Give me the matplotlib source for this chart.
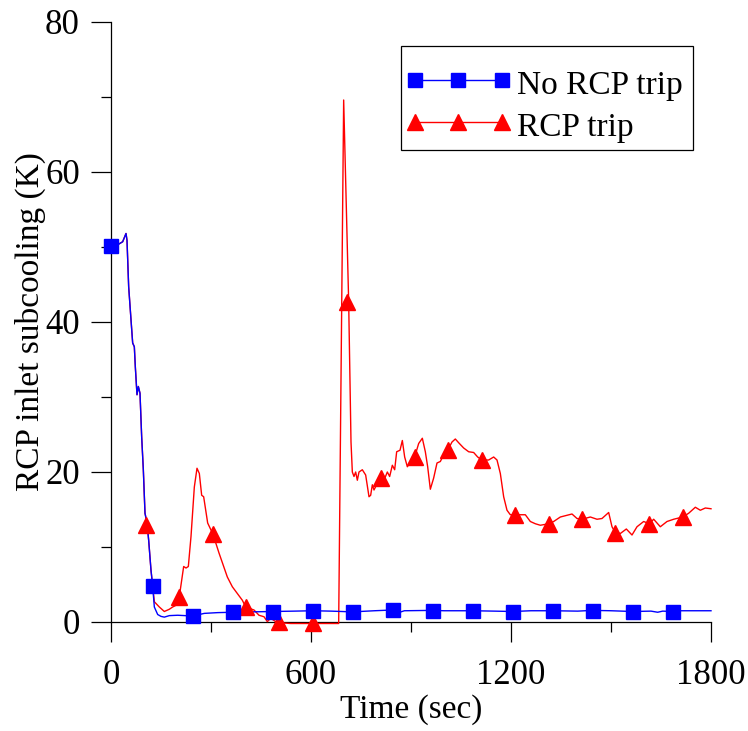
import numpy as np
import matplotlib
matplotlib.use("Agg")
import matplotlib.pyplot as plt
from matplotlib.lines import Line2D
from matplotlib.patches import Rectangle
from matplotlib.ticker import MultipleLocator

plt.rcParams['font.family'] = ['Liberation Serif', 'DejaVu Serif']

# ---- data ----
common_t = [0, 10, 20, 35, 45, 48, 53, 60, 65, 70, 73, 78, 82, 87, 92, 97, 102, 108, 113, 120, 125]
common_v = [50.0, 50.1, 50.3, 50.7, 51.8, 50.9, 44.7, 40.3, 37.2, 36.7, 34.0, 30.3, 31.4, 30.5, 24.7,
            20.3, 14.5, 13.2, 10.9, 6.9, 4.8]

no_trip_t_tail = [130, 140, 150, 160, 175, 200, 245, 280, 320, 365, 420, 485, 550, 605, 660, 725, 790,
                  845, 860, 870, 880, 965, 1000, 1085, 1150, 1205, 1260, 1325, 1400, 1445, 1500, 1565,
                  1620, 1640, 1655, 1685, 1690, 1700, 1800]
no_trip_v_tail = [2.0, 1.0, 0.75, 0.65, 0.85, 0.9, 0.8, 1.15, 1.25, 1.3, 1.35, 1.4, 1.45, 1.5, 1.45,
                  1.35, 1.5, 1.6, 1.5, 1.35, 1.5, 1.55, 1.5, 1.5, 1.45, 1.4, 1.5, 1.5, 1.45, 1.55, 1.5,
                  1.4, 1.45, 1.3, 1.45, 1.4, 1.3, 1.5, 1.5]

trip_t_tail = [130, 145, 160, 175, 185, 198, 205, 212, 218, 225, 232, 240, 250, 258, 265, 272, 278, 290,
               306, 324, 349, 364, 379, 394, 404, 429, 444, 459, 469, 479, 494, 505, 539, 600, 683,
               698, 713, 720, 724, 729, 734, 739, 744, 754, 764, 774, 779, 784, 789, 799, 809, 819,
               829, 836, 844, 851, 857, 867, 874, 881, 889, 899, 911, 923, 934, 943, 950, 958, 968,
               978, 988, 998, 1010, 1023, 1033, 1043, 1058, 1073, 1088, 1100, 1113, 1133, 1148, 1158,
               1168, 1178, 1188, 1198, 1213, 1228, 1243, 1258, 1273, 1288, 1313, 1328, 1348, 1383,
               1398, 1413, 1438, 1458, 1473, 1493, 1503, 1513, 1528, 1546, 1563, 1578, 1598, 1615,
               1628, 1648, 1668, 1688, 1715, 1733, 1753, 1768, 1783, 1800]
trip_v_tail = [2.7, 2.0, 1.4, 1.7, 2.0, 2.3, 3.4, 5.5, 7.4, 7.2, 7.4, 11.4, 18.0, 20.5, 19.8, 16.9, 16.7,
               13.2, 11.7, 9.2, 6.0, 4.7, 3.8, 2.9, 2.0, 1.6, 0.9, 0.7, 0.05, 0.5, 0.05, -0.1, -0.2,
               -0.2, -0.2, 69.6, 42.7, 24.0, 20.0, 19.4, 20.0, 18.9, 20.0, 20.3, 19.6, 16.7, 16.9,
               18.3, 17.6, 18.5, 19.2, 18.9, 20.0, 19.4, 20.9, 20.3, 22.7, 22.9, 24.2, 22.0, 20.7,
               21.4, 22.0, 23.8, 24.5, 22.7, 20.7, 17.7, 19.2, 21.2, 21.4, 22.3, 22.9, 24.0, 24.4,
               23.9, 23.2, 22.7, 22.6, 22.0, 21.6, 21.6, 22.0, 21.6, 19.8, 16.7, 14.9, 14.3, 14.3,
               14.3, 14.3, 13.4, 13.1, 12.9, 13.1, 13.4, 14.0, 14.4, 13.8, 13.7, 14.0, 13.7, 13.8,
               14.6, 12.7, 11.9, 11.8, 12.4, 11.6, 12.7, 13.4, 13.1, 13.7, 12.7, 13.4, 13.7, 14.0,
               14.5, 15.3, 14.9, 15.2, 15.1]

no_trip_mark_t = [0, 125, 245, 365, 485, 605, 725, 845, 965, 1085, 1205, 1325, 1445, 1565, 1685]
no_trip_mark_v = [50.1, 4.8, 0.8, 1.3, 1.4, 1.5, 1.3, 1.6, 1.5, 1.5, 1.4, 1.5, 1.5, 1.4, 1.4]

trip_mark_t = [105, 205, 306, 404, 505, 605, 708, 809, 911, 1010, 1113, 1213, 1313, 1413, 1513, 1615, 1715]
trip_mark_v = [13.0, 3.4, 11.7, 2.0, 0.0, -0.1, 42.7, 19.2, 22.0, 22.9, 21.6, 14.3, 13.1, 13.7, 11.9,
               13.1, 14.0]

labels = ["No RCP trip", "RCP trip"]
x_ticks = [0, 600, 1200, 1800]
y_ticks = [0, 20, 40, 60, 80]

no_trip_t = common_t + no_trip_t_tail
no_trip_v = common_v + no_trip_v_tail
trip_t = common_t + trip_t_tail
trip_v = common_v + trip_v_tail

BLUE = '#0000ff'
RED = '#ff0000'

W, H = 748, 731
fig = plt.figure(figsize=(W / 100, H / 100), dpi=100)
ax = fig.add_axes([111 / W, 1 - 622 / H, 600 / W, 600 / H])

ax.plot(trip_t, trip_v, color=RED, lw=1.0, clip_on=False, zorder=3)
ax.plot(no_trip_t, no_trip_v, color=BLUE, lw=1.0, clip_on=False, zorder=3)
ax.plot(trip_mark_t, trip_mark_v, ls='none', marker='^', color=RED, ms=11, mec=RED, clip_on=False, zorder=4)
ax.plot(no_trip_mark_t, no_trip_mark_v, ls='none', marker='s', color=BLUE, ms=10, mec=BLUE, clip_on=False, zorder=4)

ax.set_xlim(0, 1800)
ax.set_ylim(0, 80)
ax.set_xticks(x_ticks)
ax.set_yticks(y_ticks)
ax.xaxis.set_minor_locator(MultipleLocator(300))
ax.yaxis.set_minor_locator(MultipleLocator(10))
for s in ['top', 'right']:
    ax.spines[s].set_visible(False)
for s in ['left', 'bottom']:
    ax.spines[s].set_linewidth(0.9)
ax.tick_params(which='major', direction='out', length=14.4, width=0.9, labelsize=25, pad=8)
ax.tick_params(axis='x', which='major', pad=12.5)
ax.tick_params(which='minor', direction='out', length=7.2, width=0.9)

ax.set_xlabel("Time (sec)", fontsize=24, labelpad=1.5)
ax.set_ylabel("RCP inlet subcooling (K)", fontsize=24, labelpad=-1.0)

# legend frame (pixel box 401..693 x 46..150)
frame = Rectangle((401 / W, 1 - 150 / H), 292 / W, 104 / H, transform=fig.transFigure,
                  facecolor='white', edgecolor='black', linewidth=0.9, zorder=5)
fig.patches.append(frame)

handles = [Line2D([], [], color=BLUE, lw=1.0, marker='s', ms=10),
           Line2D([], [], color=RED, lw=1.0, marker='^', ms=11)]
leg = fig.legend(handles, labels, loc='upper left', bbox_to_anchor=(405 / W, 1 - 65 / H),
                 bbox_transform=fig.transFigure, borderaxespad=0, fontsize=24, numpoints=3,
                 handlelength=3.2, handletextpad=0.15, handleheight=1.27, borderpad=0,
                 labelspacing=0.18, frameon=False)
leg.set_zorder(6)

fig.savefig("out.png", dpi=100)
